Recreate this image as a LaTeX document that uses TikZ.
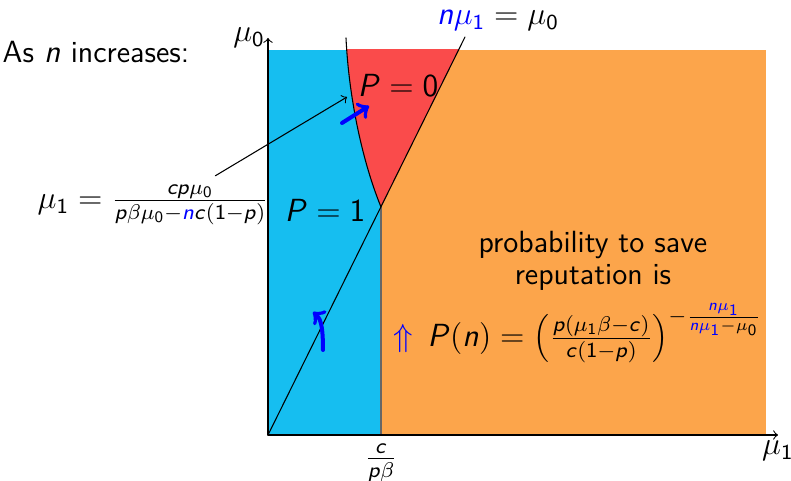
\documentclass[tikz,border=0pt]{standalone}
\usetikzlibrary{calc}
\definecolor{zoneblue}{RGB}{22,190,240}
\definecolor{zonered}{RGB}{250,75,75}
\definecolor{zoneorange}{RGB}{252,165,75}
% sans serif letters and digits in math
\DeclareSymbolFont{sfletters}{OT1}{cmss}{m}{sl}
\DeclareSymbolFont{sfdigits}{OT1}{cmss}{m}{n}
\newcommand\declsfletter[1]{\DeclareMathSymbol{#1}{\mathalpha}{sfletters}{`#1}}
\newcommand\declsfdigit[1]{\DeclareMathSymbol{#1}{\mathalpha}{sfdigits}{`#1}}
\makeatletter
\@tfor\sfch:=abcdefghijklmnopqrstuvwxyzABCDEFGHIJKLMNOPQRSTUVWXYZ\do{\expandafter\declsfletter\expandafter{\sfch}}
\@tfor\sfch:=0123456789\do{\expandafter\declsfdigit\expandafter{\sfch}}
\makeatother
\begin{document}
\begin{tikzpicture}[x=0.375pt,y=0.375pt,>=to,line join=round,line cap=round,
	every node/.style={font=\fontsize{11.5pt}{12pt}\selectfont\sffamily},
	bluearrow/.style={->,blue,line width=1.5pt}]
	\useasboundingbox (-268,-46) rectangle (523,435);
	% regions
	\fill[zoneorange] (113,0) rectangle (498,385);
	\fill[zoneblue] (0,0) rectangle (113,385);
	\begin{scope}
		\clip (0,0) rectangle (498,385);
		\fill[zonered] (78,397) .. controls (81,335) and (95,272) .. (113,228) -- (197,398) -- cycle;
	\end{scope}
	\draw[black!60] (113,0) -- (113,228);
	% boundaries
	\draw (78,397) .. controls (81,335) and (95,272) .. (113,228);
	\draw (0,0) -- (197,398);
	\draw[->] (0,0) -- (510,0) node[below,inner sep=2pt] (xlab) {$\mu_1$};
	\draw[->] (0,0) -- (0,397) node[left,inner sep=1pt] (ylab) {$\mu_0$};
	\node[below] (cpb) at (113,0) {$\frac{c}{p\beta}$};
	\node (linelab) at (230,414) {$\color{blue}n\mu_1\color{black}=\mu_0$};
	\node (intro) at (-172,383) {As $n$ increases:};
	\node (pzero) at (130,350) {$P=0$};
	\node (pone) at (57,225) {$P=1$};
	\node (mu1eq) at (-115,230) {$\mu_1=\frac{cp\mu_0}{p\beta\mu_0-{\color{blue}n}c(1-p)}$};
	\node[align=center] (save) at (325,174) {probability to save\\reputation is};
	\node (pn) at (310,102) {$\color{blue}\Uparrow\color{black}\,P(n)=\left(\frac{p(\mu_1\beta-c)}{c(1-p)}\right)^{-\frac{\color{blue}n\mu_1}{\color{blue}n\mu_1\color{black}-\mu_0}}$};
	% pointers
	\draw[->] ($(mu1eq.north)!0.5!(mu1eq.north east)$) -- (79,338);
	\draw[bluearrow] (74,312) -- (101,329);
	\draw[bluearrow] (55,85) .. controls (55,112) and (52,117) .. (45,123);
\end{tikzpicture}
\end{document}
